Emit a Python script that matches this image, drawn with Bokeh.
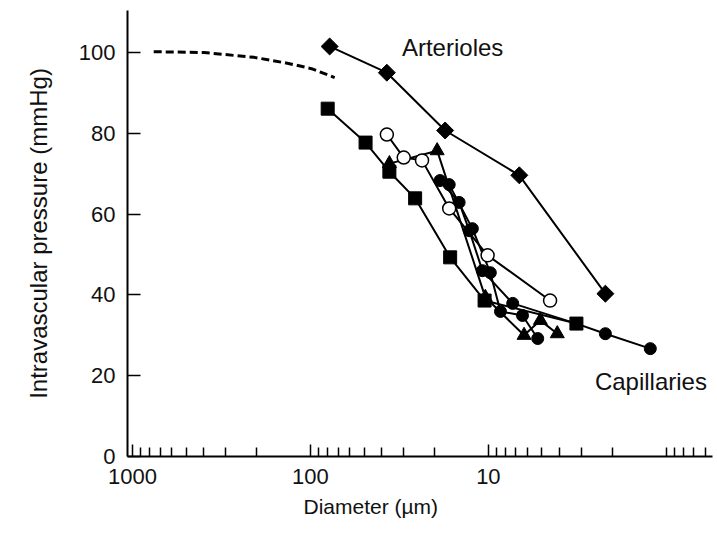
import numpy as np
from bokeh.plotting import figure
from bokeh.models import Range1d, FixedTicker, Label, BasicTickFormatter, Title
from bokeh.embed import file_html
from bokeh.resources import INLINE

# ---- data ----
diam_arterioles = [78, 37.2, 17.5, 6.7, 2.2]
pres_arterioles = [101.5, 95.0, 80.7, 69.6, 40.3]

diam_squares = [80, 49, 36, 25.8, 16.4, 10.5, 3.2]
pres_squares = [86.1, 77.7, 70.5, 63.9, 49.3, 38.6, 32.9]

diam_triangles = [36, 19.4, 10.4, 6.3, 5.1, 4.1]
pres_triangles = [72.5, 75.7, 39.4, 30.0, 33.7, 30.4]

diam_open = [37.2, 29.9, 23.6, 16.6, 10.1, 4.5]
pres_open = [79.7, 74.0, 73.3, 61.4, 49.8, 38.6]

diam_circles_a = [18.7, 14.6, 12.8, 10.8, 7.3, 3.2, 2.2, 1.23]
pres_circles_a = [68.3, 62.9, 55.9, 46.0, 37.9, 32.9, 30.4, 26.7]

diam_circles_b = [16.6, 12.3, 9.75, 8.55, 6.43, 5.28]
pres_circles_b = [67.3, 56.4, 45.5, 35.9, 34.9, 29.2]

diam_dashed = [760, 397, 207, 133, 98.6, 73.1]
pres_dashed = [100.2, 100.0, 98.8, 97.3, 96.0, 93.8]

x_major_ticks = [1000, 100, 10]
x_major_labels = ["1000", "100", "10"]
x_minor_ticks = [m * d for d in (100, 10, 1) for m in range(2, 10)] + [1, 0.9, 0.8, 0.7, 0.6]
y_ticks = [0, 20, 40, 60, 80, 100]

FONT = "Liberation Sans"

p = figure(width=715, height=536, x_axis_type="log",
           x_range=Range1d(1067, 0.55), y_range=Range1d(0, 110.4),
           output_backend="svg", toolbar_location=None,
           min_border_left=127, min_border_right=3, min_border_top=10, min_border_bottom=80)
p.outline_line_color = None
p.xgrid.grid_line_color = None
p.ygrid.grid_line_color = None
p.background_fill_color = "white"
p.border_fill_color = "white"

# lines
p.line(diam_dashed, pres_dashed, line_color="black", line_width=3, line_dash="8 4")
for xs, ys in [(diam_arterioles, pres_arterioles), (diam_squares, pres_squares),
               (diam_triangles, pres_triangles), (diam_open, pres_open),
               (diam_circles_a, pres_circles_a), (diam_circles_b, pres_circles_b)]:
    p.line(xs, ys, line_color="black", line_width=2)

# markers
p.scatter(diam_circles_a, pres_circles_a, marker="circle", size=12, fill_color="black", line_color="black")
p.scatter(diam_circles_b, pres_circles_b, marker="circle", size=12, fill_color="black", line_color="black")
p.scatter(diam_open, pres_open, marker="circle", size=13, fill_color="white", line_color="black", line_width=1.5)
p.scatter(diam_squares, pres_squares, marker="square", size=13, fill_color="black", line_color="black")
p.scatter(diam_triangles, pres_triangles, marker="triangle", size=14, fill_color="black", line_color="black")
p.scatter(diam_arterioles, pres_arterioles, marker="square", angle=np.pi / 4, size=12,
          fill_color="black", line_color="black")

# annotations
p.add_layout(Label(x=30.6, y=101.2, text="Arterioles", text_align="left", text_baseline="middle",
                   text_font=FONT, text_font_size="24px", text_color="#111111"))
p.add_layout(Label(x=2.52, y=18.6, text="Capillaries", text_align="left", text_baseline="middle",
                   text_font=FONT, text_font_size="24px", text_color="#111111"))

# x axis
xa = p.xaxis[0]
xa.ticker = FixedTicker(ticks=x_major_ticks, minor_ticks=x_minor_ticks)
xa.formatter = BasicTickFormatter(use_scientific=False)
xa.major_label_overrides = {t: l for t, l in zip(x_major_ticks, x_major_labels)}

# x-axis title, placed off-centre as in the reference
p.add_layout(Title(text="Diameter (µm)", align="left", offset=176, standoff=13,
                   text_font=FONT, text_font_size="21px", text_font_style="normal",
                   text_color="#111111"), "below")

# y axis
ya = p.yaxis[0]
ya.ticker = FixedTicker(ticks=y_ticks, minor_ticks=[])
ya.axis_label = "Intravascular pressure (mmHg)"

for ax in (xa, ya):
    ax.axis_line_color = "black"
    ax.axis_line_width = 2
    ax.major_tick_line_color = "black"
    ax.major_tick_line_width = 1.5
    ax.minor_tick_line_color = "black"
    ax.minor_tick_line_width = 1.5
    ax.major_tick_out = 0
    ax.minor_tick_out = 0
    ax.major_label_text_font = FONT
    ax.major_label_text_color = "#111111"
    ax.axis_label_text_font = FONT
    ax.axis_label_text_font_style = "normal"
    ax.axis_label_text_color = "#111111"

xa.major_tick_in = 12
xa.minor_tick_in = 9
xa.major_label_text_font_size = "22px"
xa.major_label_standoff = 12

ya.major_tick_in = 13
ya.minor_tick_in = 0
ya.major_label_text_font_size = "22px"
ya.major_label_standoff = 12
ya.axis_label_text_font_size = "24px"
ya.axis_label_standoff = 24

open("out.html", "w").write(file_html(p, INLINE))
